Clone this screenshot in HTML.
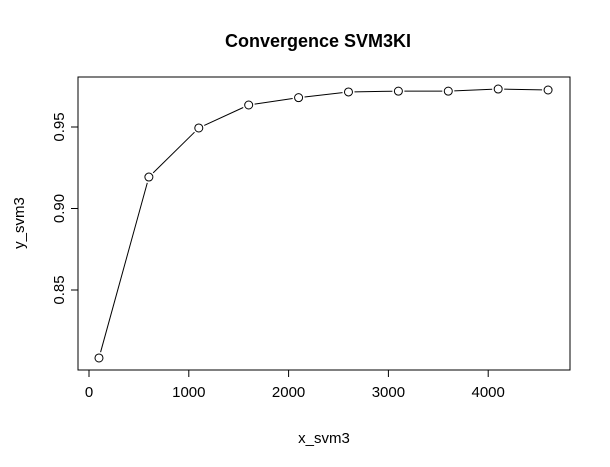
<!DOCTYPE html>
<html><head><meta charset="utf-8"><style>
html,body{margin:0;padding:0;background:#fff;}
svg{display:block;font-family:"Liberation Sans",sans-serif;}
</style></head><body>
<svg id="chart" width="610" height="467" viewBox="0 0 610 467" xmlns="http://www.w3.org/2000/svg">
<rect width="610" height="467" fill="#fff"/>
<text x="318" y="47" text-anchor="middle" font-size="18" font-weight="bold">Convergence SVM3KI</text>
<rect x="78" y="77" width="492" height="293" fill="none" stroke="#000" stroke-width="1"/>
<text x="324" y="443" text-anchor="middle" font-size="15">x_svm3</text>
<text transform="translate(24,223) rotate(-90)" text-anchor="middle" font-size="15">y_svm3</text>
<g id="xaxis"></g><g id="yaxis"></g><g id="series"></g>
</svg>
<script>
const xValues = [100, 600, 1100, 1600, 2100, 2600, 3100, 3600, 4100, 4600];
const yValues = [0.8083, 0.9193, 0.9494, 0.9635, 0.968, 0.9715, 0.972, 0.972, 0.9733, 0.9727];
const xTicks = [0, 1000, 2000, 3000, 4000];
const yTicks = [0.85, 0.90, 0.95];
const yTickLabels = ["0.85", "0.90", "0.95"];

const NS = "http://www.w3.org/2000/svg";
function xs(v){ return 89 + v * 0.0998; }
function ys(v){ return 127 + (0.95 - v) / 0.05 * 81.5; }
function mk(tag, attrs, parent){
  const e = document.createElementNS(NS, tag);
  for (const k in attrs) e.setAttribute(k, attrs[k]);
  parent.appendChild(e); return e;
}
const xa = document.getElementById('xaxis');
mk('line',{x1:xs(xTicks[0]),x2:xs(xTicks[xTicks.length-1]),y1:370,y2:370,stroke:'#000'},xa);
xTicks.forEach(t=>{
  const l = mk('line',{x1:xs(t),x2:xs(t),y1:370,y2:377,stroke:'#000'},xa);
  
  
  const tx = mk('text',{x:xs(t),y:397,'text-anchor':'middle','font-size':15},xa);
  tx.textContent = t;
  
  
});
const ya = document.getElementById('yaxis');
mk('line',{x1:78,x2:78,y1:ys(yTicks[0]),y2:ys(yTicks[yTicks.length-1]),stroke:'#000'},ya);
yTicks.forEach((t,i)=>{
  const l = mk('line',{x1:71,x2:78,y1:ys(t),y2:ys(t),stroke:'#000'},ya);
  
  
  const tx = mk('text',{transform:`translate(64,${ys(t)}) rotate(-90)`,'text-anchor':'middle','font-size':15},ya);
  tx.textContent = yTickLabels[i];
  
  
});
const s = document.getElementById('series');
for (let i=0;i<xValues.length-1;i++){
  const x1=xs(xValues[i]), y1=ys(yValues[i]), x2=xs(xValues[i+1]), y2=ys(yValues[i+1]);
  const dx=x2-x1, dy=y2-y1, d=Math.hypot(dx,dy), r=6;
  if (d>2*r){
    const l = mk('line',{x1:x1+dx/d*r,y1:y1+dy/d*r,x2:x2-dx/d*r,y2:y2-dy/d*r,stroke:'#000','stroke-width':1},s);
    
    
  }
}
xValues.forEach((x,i)=>{
  const c = mk('circle',{cx:xs(x),cy:ys(yValues[i]),r:4,fill:'none',stroke:'#000','stroke-width':1},s);
  
  
});
</script>
</body></html>
